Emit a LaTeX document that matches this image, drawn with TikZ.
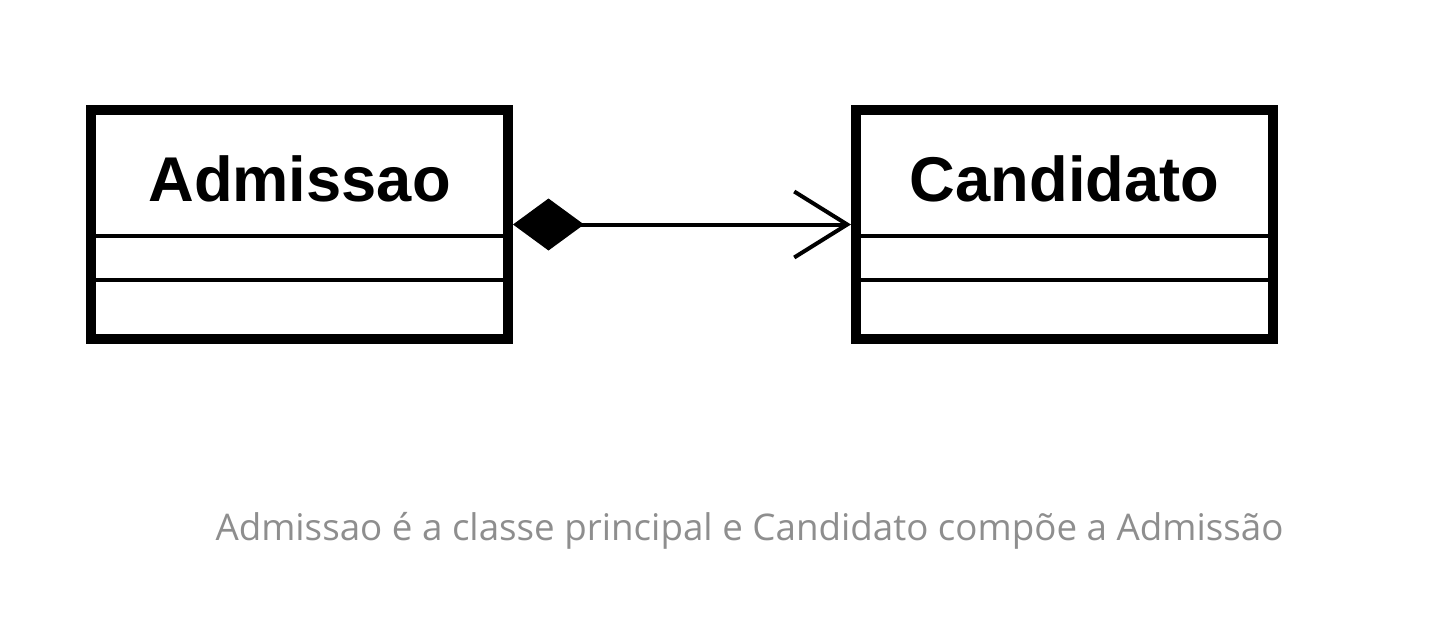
\documentclass[tikz,border=0pt]{standalone}
\usepackage{xcolor}
\usepackage{fontspec}
\setmainfont{Liberation Sans}
\newfontfamily\captionfont{Open Sans}
\usepackage{tikz}
\usetikzlibrary{positioning}
\usetikzlibrary{arrows.meta}

\definecolor{captiongray}{HTML}{8E8E8E}

\tikzset{
	classbox/.style={draw, line width=0.2cm, minimum width=8.34cm, minimum height=4.58cm, inner sep=0pt},
	classname/.style={font=\bfseries\fontsize{36}{40}\selectfont, inner sep=0pt},
	divider/.style={line width=0.08cm},
	composition/.style={line width=0.08cm, {Diamond[length=1.42cm,width=1.04cm]}-{Straight Barb[length=1.06cm,width=1.32cm]}},
}

\begin{document}
\begin{tikzpicture}
	\fill[white] (0,0) rectangle (28.92,12.34);
	\useasboundingbox (0,0) rectangle (28.92,12.34);

	\node[classbox] (adm) at (5.99,7.85) {};
	\node[classbox] (cand) [right = 6.76cm of adm] {};
	\node[classname] (admname) at ([yshift=0.91cm]adm.center) {Admissao};
	\node[classname] (candname) at ([yshift=0.91cm]cand.center) {Candidato};

	\draw[divider] ([yshift=-0.23cm]adm.west) -- ([yshift=-0.23cm]adm.east);
	\draw[divider] ([yshift=-1.11cm]adm.west) -- ([yshift=-1.11cm]adm.east);
	\draw[divider] ([yshift=-0.23cm]cand.west) -- ([yshift=-0.23cm]cand.east);
	\draw[divider] ([yshift=-1.11cm]cand.west) -- ([yshift=-1.11cm]cand.east);

	\draw[composition] (adm) -- (cand);

	\node[anchor=base, text=captiongray, font=\captionfont\fontsize{20.9}{25}\selectfont] (caption) at (14.99,1.54) {Admissao é a classe principal e Candidato compõe a Admissão};
\end{tikzpicture}
\end{document}
